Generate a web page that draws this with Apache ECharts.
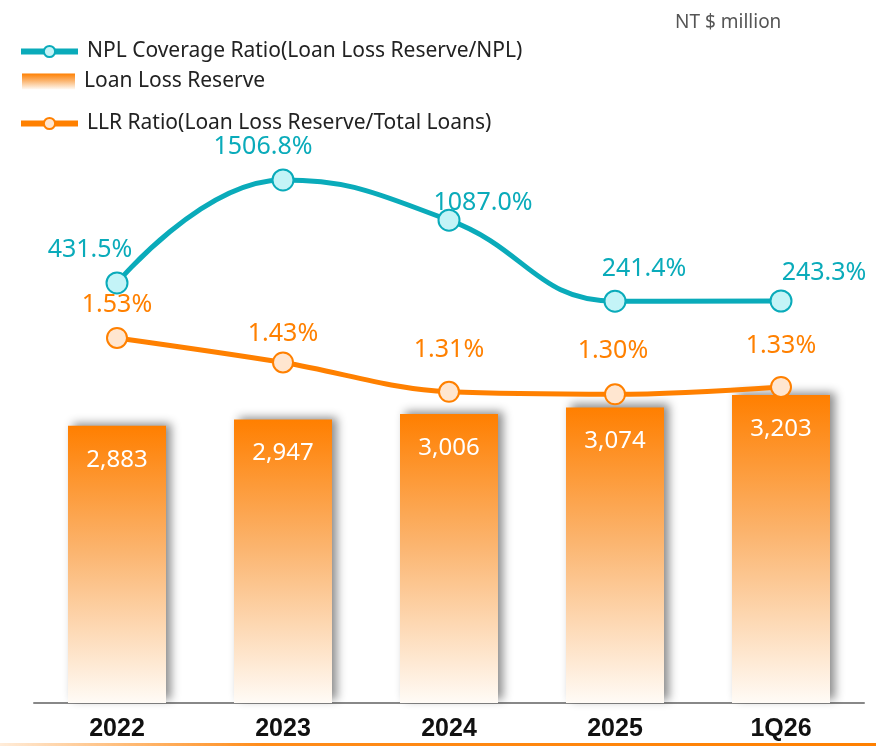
<!DOCTYPE html>
<html>
<head>
<meta charset="utf-8">
<script src="https://cdn.jsdelivr.net/npm/echarts@6/dist/echarts.min.js"></script>
<style>
  html, body { margin: 0; padding: 0; background: #fff; }
  #chart { width: 876px; height: 747px; }
</style>
</head>
<body>
<div id="chart"></div>
<script>
var categories = ['2022', '2023', '2024', '2025', '1Q26'];
var loanLossReserve = [2883, 2947, 3006, 3074, 3203];
var nplCoverage = [431.5, 1506.8, 1087.0, 241.4, 243.3];
var llrRatio = [1.53, 1.43, 1.31, 1.30, 1.33];

// label offsets (px) from each point centre
var nplLabelOffset = [[-27, -33], [-20, -33], [34, -17], [29, -32], [43, -28]];
var llrLabelOffset = [[0, -33], [0, -29], [0, -42], [-2, -43], [0, -41]];

var font = '"Noto Sans", "Open Sans", sans-serif';
var teal = '#0AABBA';
var orange = '#FF8000';

var chart = echarts.init(document.getElementById('chart'));

var legendText = { fontSize: 21, color: '#222', fontFamily: font, padding: [0, 0, 0, 4] };

var option = {
    animation: false,
    textStyle: { fontFamily: font },
    title: {
        text: 'NT $ million',
        left: 670, top: 8,
        textStyle: { fontSize: 19, fontWeight: 'normal', color: '#555', fontFamily: font }
    },
    legend: [{
        left: 13, top: 36,
        itemWidth: 57, itemHeight: 14,
        textStyle: legendText,
        lineStyle: { width: 6 },
        data: ['NPL Coverage Ratio(Loan Loss Reserve/NPL)']
    }, {
        left: 17, top: 66,
        itemWidth: 53, itemHeight: 16,
        icon: 'rect',
        textStyle: legendText,
        data: ['Loan Loss Reserve']
    }, {
        left: 13, top: 108,
        itemWidth: 57, itemHeight: 14,
        textStyle: legendText,
        lineStyle: { width: 6 },
        data: ['LLR Ratio(Loan Loss Reserve/Total Loans)']
    }],
    grid: { left: 34, right: 12, top: 126, bottom: 44 },
    xAxis: {
        type: 'category',
        data: categories,
        axisTick: { show: false },
        axisLine: { lineStyle: { color: '#888', width: 2 } },
        axisLabel: {
            color: '#111', fontSize: 25, fontWeight: 'bold', margin: 14,
            fontFamily: '"Liberation Sans Narrow", "Liberation Sans", sans-serif'
        }
    },
    yAxis: [
        { type: 'value', min: 0, max: 6000, show: false, splitLine: { show: false } },
        { type: 'value', min: -3953, max: 2070, show: false, splitLine: { show: false } },
        { type: 'value', min: 0.04, max: 2.395, show: false, splitLine: { show: false } }
    ],
    series: [{
        name: 'Loan Loss Reserve',
        type: 'bar',
        yAxisIndex: 0,
        barWidth: 98,
        data: loanLossReserve,
        itemStyle: {
            color: new echarts.graphic.LinearGradient(0, 0, 0, 1, [
                { offset: 0, color: '#FF7F00' },
                { offset: 0.45, color: '#FBB46E' },
                { offset: 1, color: '#FFFBF6' }
            ]),
            shadowColor: 'rgba(0,0,0,0.45)',
            shadowBlur: 9,
            shadowOffsetX: 5,
            shadowOffsetY: -3
        },
        label: {
            show: true,
            position: 'insideTop',
            distance: 22,
            color: '#fff',
            fontSize: 24,
            fontFamily: font,
            formatter: function (p) { return p.value.toLocaleString('en-US'); }
        }
    }, {
        name: 'NPL Coverage Ratio(Loan Loss Reserve/NPL)',
        type: 'line',
        yAxisIndex: 1,
        smooth: 0.45,
        symbol: 'circle',
        symbolSize: 21,
        lineStyle: { color: teal, width: 5 },
        itemStyle: { color: '#C4F4F7', borderColor: teal, borderWidth: 2 },
        data: nplCoverage.map(function (v, i) {
            return {
                value: v,
                label: { offset: nplLabelOffset[i] }
            };
        }),
        label: {
            show: true,
            position: 'inside',
            color: teal,
            fontSize: 25,
            fontFamily: font,
            formatter: function (p) { return p.value.toFixed(1) + '%'; }
        }
    }, {
        name: 'LLR Ratio(Loan Loss Reserve/Total Loans)',
        type: 'line',
        yAxisIndex: 2,
        smooth: 0.35,
        symbol: 'circle',
        symbolSize: 20,
        lineStyle: { color: orange, width: 5 },
        itemStyle: { color: '#FFE6D0', borderColor: orange, borderWidth: 2 },
        data: llrRatio.map(function (v, i) {
            return {
                value: v,
                label: { offset: llrLabelOffset[i] }
            };
        }),
        label: {
            show: true,
            position: 'inside',
            color: orange,
            fontSize: 25,
            fontFamily: font,
            formatter: function (p) { return p.value.toFixed(2) + '%'; }
        }
    }],
    graphic: [{
        type: 'rect',
        left: 0, top: 743,
        shape: { width: 876, height: 3 },
        style: {
            fill: new echarts.graphic.LinearGradient(0, 0, 1, 0, [
                { offset: 0, color: 'rgba(255,128,0,0.15)' },
                { offset: 0.3, color: '#FF8C1A' },
                { offset: 1, color: '#FF8000' }
            ])
        }
    }]
};

chart.setOption(option);
</script>
</body>
</html>
